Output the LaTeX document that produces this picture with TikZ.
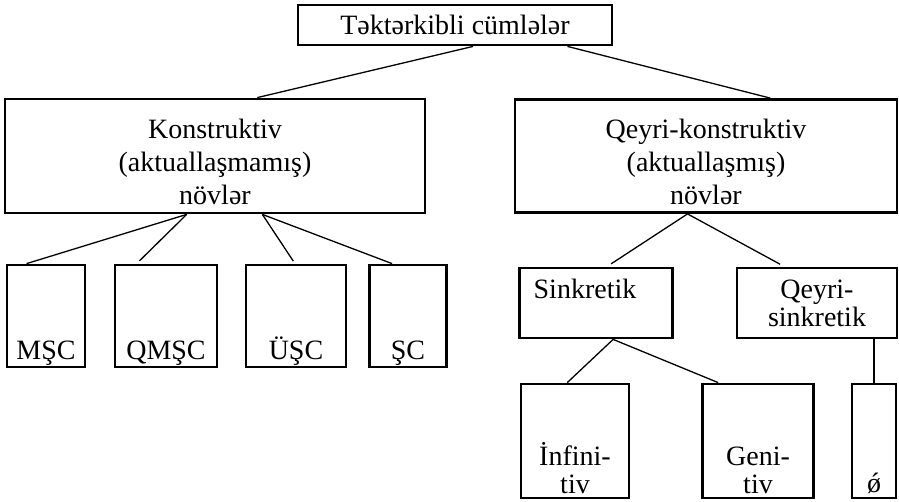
\documentclass[tikz,border=0pt]{standalone}
\usepackage{fontspec}
\setmainfont{Liberation Serif}
\usetikzlibrary{calc}
\tikzstyle{box}=[draw,line width=2.8pt,inner sep=0pt,align=center,font=\fontsize{28}{33}\selectfont]
\tikzstyle{txt}=[inner sep=0pt,align=center,font=\fontsize{28}{28}\selectfont]
\tikzstyle{mid}=[inner sep=0pt,align=center,font=\fontsize{28}{33}\selectfont,yshift=-6pt]
\tikzstyle{low}=[txt,anchor=base,yshift=9pt]
\tikzstyle{two}=[low,font=\fontsize{28}{28}\selectfont,yshift=-3pt]
\tikzstyle{line}=[line width=1.3pt]

\begin{document}
\begin{tikzpicture}[x=1pt,y=-1pt]
	\useasboundingbox (0,0) rectangle (899,501);
	% top level
	\node[box,minimum width=314pt,minimum height=40pt] (top) at (455,25) {Təktərkibli cümlələr};
	\node[box,minimum width=420pt,minimum height=114pt,label={[mid]center:Konstruktiv\\(aktuallaşmamış)\\növlər}] (kons) at (215,156) {};
	\node[box,minimum width=382pt,minimum height=113pt,label={[mid]center:Qeyri-konstruktiv\\(aktuallaşmış)\\növlər}] (qeyri) at (706,156) {};
	% left branch
	\node[box,minimum width=78pt,minimum height=102pt,label={[low]south:MŞC}] (msc) at (46,316) {};
	\node[box,minimum width=102pt,minimum height=102pt,label={[low]south:QMŞC}] (qmsc) at (166,316) {};
	\node[box,minimum width=100pt,minimum height=102pt,label={[low]south:ÜŞC}] (usc) at (296,316) {};
	\node[box,minimum width=77pt,minimum height=102pt,label={[low]south:ŞC}] (sc) at (408,316) {};
	% right branch
	\node[box,minimum width=153pt,minimum height=70pt,label={[txt,anchor=north,xshift=-11pt,yshift=-12pt]north:Sinkretik}] (sink) at (596,303) {};
	\node[box,minimum width=160pt,minimum height=70pt,font=\fontsize{28}{28}\selectfont] (qsink) at (817,303) {Qeyri-\\sinkretik};
	\node[box,minimum width=108pt,minimum height=114pt,label={[two]south:İnfini-\\tiv}] (inf) at (575,441) {};
	\node[box,minimum width=111pt,minimum height=114pt,label={[two]south:Geni-\\tiv}] (gen) at (758,441) {};
	\node[box,minimum width=44pt,minimum height=114pt,label={[low,yshift=-2pt]south:ǿ}] (phi) at (874,441) {};
	\path[line]
		($(top.south west)!.557!(top.south east)$)	edge	($(kons.north west)!.6!(kons.north east)$)
		($(top.south west)!.855!(top.south east)$)	edge	($(qeyri.north west)!.667!(qeyri.north east)$)
		($(kons.south west)!.433!(kons.south east)$)	edge	($(msc.north west)!.26!(msc.north east)$)
		($(kons.south west)!.433!(kons.south east)$)	edge[shorten >=4pt]	($(qmsc.north west)!.22!(qmsc.north east)$)
		($(kons.south west)!.612!(kons.south east)$)	edge[shorten >=3pt]	($(usc.north west)!.49!(usc.north east)$)
		($(kons.south west)!.612!(kons.south east)$)	edge	($(sc.north west)!.3!(sc.north east)$)
		($(qeyri.south west)!.452!(qeyri.south east)$)	edge[shorten >=5pt]	($(sink.north west)!.57!(sink.north east)$)
		($(qeyri.south west)!.452!(qeyri.south east)$)	edge[shorten >=5pt]	($(qsink.north west)!.3!(qsink.north east)$)
		($(sink.south west)!.61!(sink.south east)$)	edge	($(inf.north west)!.43!(inf.north east)$)
		($(sink.south west)!.61!(sink.south east)$)	edge	($(gen.north west)!.15!(gen.north east)$)
		(phi.north)	edge	(phi.north |- qsink.south);
\end{tikzpicture}
\end{document}
